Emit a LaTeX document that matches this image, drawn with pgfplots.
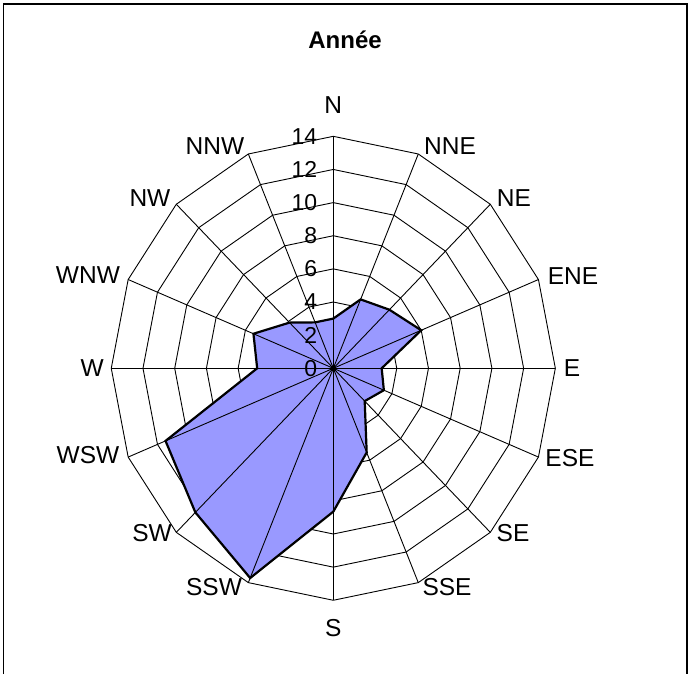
\documentclass[border=0pt]{standalone}
\usepackage{pgfplots}
\pgfplotsset{compat=1.18}
\usepackage{fontspec}
\setmainfont{Liberation Sans}
\definecolor{radarfill}{RGB}{153,153,255}

\begin{document}
\begin{tikzpicture}
\begin{axis}[
  x=15.86pt, y=16.57pt,
  xmin=-21.015, xmax=22.364,
  ymin=-18.449, ymax=22.227,
  hide axis, clip=false,
  every axis plot/.append style={data cs=polar},
]
% page frame
\path (rel axis cs:0,0) rectangle (rel axis cs:1,1);
\draw[line width=1.5pt] (rel axis cs:0.0051,0) -- (rel axis cs:0.0051,0.9941)
  -- (rel axis cs:0.9985,0.9941) -- (rel axis cs:0.9985,0);

% polygonal rings
\pgfplotsinvokeforeach{2,4,...,14}{
  \addplot[black, line width=0.9pt, mark=none] coordinates {
    (90,#1) (67.5,#1) (45,#1) (22.5,#1) (0,#1) (-22.5,#1) (-45,#1) (-67.5,#1)
    (-90,#1) (-112.5,#1) (-135,#1) (-157.5,#1) (180,#1) (157.5,#1) (135,#1) (112.5,#1)
  } -- cycle;
}

% frequency by direction (angle, value)
\addplot[fill=radarfill, draw=black, line width=2.2pt, line join=miter, mark=none] coordinates {
  (90,3.0)     % N
  (67.5,4.5)   % NNE
  (45,5.0)     % NE
  (22.5,6.0)   % ENE
  (0,3.05)     % E
  (-22.5,3.45) % ESE
  (-45,2.8)    % SE
  (-67.5,5.5)  % SSE
  (-90,8.65)   % S
  (-112.5,13.7)% SSW
  (-135,12.3)  % SW
  (-157.5,11.45)% WSW
  (180,4.8)    % W
  (157.5,5.45) % WNW
  (135,3.9)    % NW
  (112.5,3.0)  % NNW
} -- cycle;

% spokes
\pgfplotsinvokeforeach{90,67.5,45,22.5,0,-22.5,-45,-67.5,-90,-112.5,-135,-157.5,180,157.5,135,112.5}{
  \addplot[black, line width=0.9pt, mark=none] coordinates {(0,0) (#1,14)};
}
\addplot[only marks, mark=*, mark size=2.6pt, black] coordinates {(0,0)};

% radial labels
\pgfplotsinvokeforeach{0,2,...,14}{
  \node[anchor=east, inner sep=0pt, font=\fontsize{23}{25}\selectfont]
    at (axis cs:-1.0,#1) {#1};
}

% direction labels
\begin{scope}[every node/.style={font=\fontsize{24.5}{26}\selectfont, inner sep=0pt}]
\node at (axis cs:0,15.87) {N};
\node at (axis cs:7.36,13.42) {NNE};
\node at (axis cs:11.39,10.28) {NE};
\node at (axis cs:15.11,5.57) {ENE};
\node at (axis cs:15.05,0) {E};
\node at (axis cs:14.92,-5.41) {ESE};
\node at (axis cs:11.33,-9.94) {SE};
\node at (axis cs:7.17,-13.20) {SSE};
\node at (axis cs:0,-15.67) {S};
\node at (axis cs:-7.52,-13.20) {SSW};
\node at (axis cs:-11.43,-9.94) {SW};
\node at (axis cs:-15.47,-5.23) {WSW};
\node at (axis cs:-15.21,0) {W};
\node at (axis cs:-15.47,5.63) {WNW};
\node at (axis cs:-11.56,10.28) {NW};
\node at (axis cs:-7.46,13.42) {NNW};
\end{scope}

% title
\node[font=\fontsize{24}{26}\selectfont\bfseries] at (axis cs:0.74,19.81) {Année};
\end{axis}
\end{tikzpicture}
\end{document}
